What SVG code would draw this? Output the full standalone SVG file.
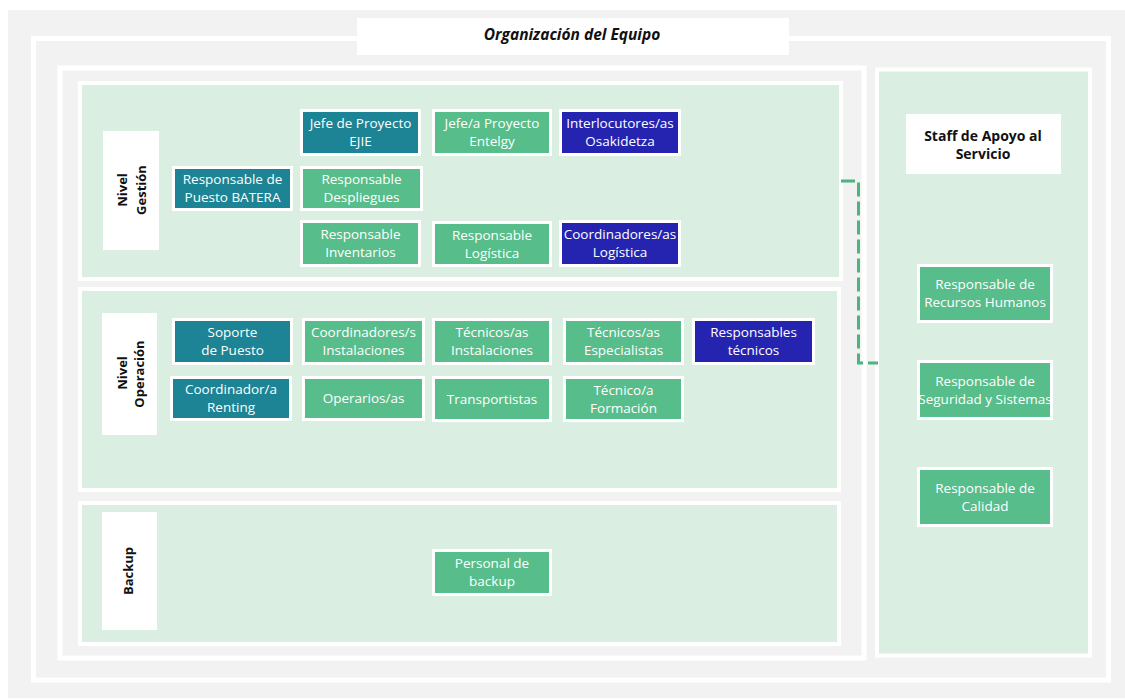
<svg xmlns="http://www.w3.org/2000/svg" width="1125" height="700" viewBox="0 0 1125 700">
<defs>
<style>
.frame{fill:none;stroke:#ffffff;stroke-width:5}
.sec{fill:#daeee1;stroke:#ffffff;stroke-width:4}
.lbl{fill:#ffffff}
.lt{font-family:"Open Sans","Liberation Sans",sans-serif;font-size:13px;font-weight:bold;fill:#111111;text-anchor:middle;dominant-baseline:central}
.st{font-family:"Open Sans","Liberation Sans",sans-serif;font-size:14px;font-weight:bold;fill:#111111;text-anchor:middle;dominant-baseline:central}
.node rect{stroke:#ffffff;stroke-width:3}
.teal{fill:#1c8494}
.green{fill:#57bd8a}
.blue{fill:#2424b0}
.nt{font-family:"Open Sans","Liberation Sans",sans-serif;font-size:13.5px;fill:#ffffff;text-anchor:middle}
.conn{fill:none;stroke:#4db47e;stroke-width:3;stroke-dasharray:14 5}
</style>
<clipPath id="clipS2"><rect x="920" y="363" width="130" height="54"/></clipPath>
</defs>
<rect x="0" y="0" width="1125" height="700" fill="#ffffff"/>
<rect x="8" y="10" width="1117" height="688" fill="#f2f2f2"/>
<rect class="frame" x="33.5" y="38.5" width="1075" height="641.5"/>
<g id="title">
<rect x="357" y="18" width="432" height="37" fill="#ffffff"/>
<text x="572" y="40" style="font-family:'Open Sans','Liberation Sans',sans-serif;font-size:15.5px;font-weight:bold;font-style:italic;fill:#111;text-anchor:middle">Organización del Equipo</text>
</g>
<rect class="frame" x="60" y="68" width="804" height="590" stroke-width="4"/>
<g id="sec-gestion">
<rect class="sec" x="80" y="83" width="761" height="196"/>
<rect class="lbl" x="103" y="131" width="56" height="119"/>
<text class="lt" transform="translate(122,190) rotate(-90)">Nivel</text>
<text class="lt" transform="translate(141,190) rotate(-90)">Gestión</text>
</g>
<g id="sec-operacion">
<rect class="sec" x="80" y="289" width="759" height="201"/>
<rect class="lbl" x="102" y="313" width="55" height="122"/>
<text class="lt" transform="translate(122,373) rotate(-90)">Nivel</text>
<text class="lt" transform="translate(139,374) rotate(-90)">Operación</text>
</g>
<g id="sec-backup">
<rect class="sec" x="80" y="503" width="759" height="141"/>
<rect class="lbl" x="102" y="512" width="55" height="118"/>
<text class="lt" transform="translate(128,571) rotate(-90)">Backup</text>
</g>
<g id="staff">
<rect class="sec" x="877" y="69.5" width="213" height="586"/>
<rect class="lbl" x="906" y="114" width="155" height="60"/>
<text class="st" x="983" y="135">Staff de Apoyo al</text>
<text class="st" x="983" y="153">Servicio</text>
</g>
<g id="n1" class="node"><rect class="teal" x="301.5" y="110.5" width="118" height="44"/><text class="nt" x="360.5" y="128">Jefe de Proyecto</text><text class="nt" x="360.5" y="146">EJIE</text></g>
<g id="n2" class="node"><rect class="green" x="433.5" y="110.5" width="117" height="44"/><text class="nt" x="492" y="128">Jefe/a Proyecto</text><text class="nt" x="492" y="146">Entelgy</text></g>
<g id="n3" class="node"><rect class="blue" x="560.5" y="110.5" width="119" height="44"/><text class="nt" x="620" y="128">Interlocutores/as</text><text class="nt" x="620" y="146">Osakidetza</text></g>
<g id="n4" class="node"><rect class="teal" x="173.5" y="167.5" width="118" height="42"/><text class="nt" x="232.5" y="184">Responsable de</text><text class="nt" x="232.5" y="202">Puesto BATERA</text></g>
<g id="n5" class="node"><rect class="green" x="301.5" y="167.5" width="120" height="42"/><text class="nt" x="361.5" y="184">Responsable</text><text class="nt" x="361.5" y="202">Despliegues</text></g>
<g id="n6" class="node"><rect class="green" x="301.5" y="221.5" width="118" height="44"/><text class="nt" x="360.5" y="239">Responsable</text><text class="nt" x="360.5" y="257">Inventarios</text></g>
<g id="n7" class="node"><rect class="green" x="433.5" y="222.5" width="117" height="43"/><text class="nt" x="492" y="240">Responsable</text><text class="nt" x="492" y="258">Logística</text></g>
<g id="n8" class="node"><rect class="blue" x="560.5" y="221.5" width="119" height="44"/><text class="nt" x="620" y="239">Coordinadores/as</text><text class="nt" x="620" y="257">Logística</text></g>
<g id="o1" class="node"><rect class="teal" x="173.5" y="319.5" width="118" height="44"/><text class="nt" x="232.5" y="337">Soporte</text><text class="nt" x="232.5" y="355">de Puesto</text></g>
<g id="o2" class="node"><rect class="green" x="303.5" y="319.5" width="120" height="44"/><text class="nt" x="363.5" y="337">Coordinadores/s</text><text class="nt" x="363.5" y="355">Instalaciones</text></g>
<g id="o3" class="node"><rect class="green" x="433.5" y="319.5" width="117" height="44"/><text class="nt" x="492" y="337">Técnicos/as</text><text class="nt" x="492" y="355">Instalaciones</text></g>
<g id="o4" class="node"><rect class="green" x="564.5" y="319.5" width="118" height="44"/><text class="nt" x="623.5" y="337">Técnicos/as</text><text class="nt" x="623.5" y="355">Especialistas</text></g>
<g id="o5" class="node"><rect class="blue" x="693.5" y="319.5" width="120" height="44"/><text class="nt" x="753.5" y="337">Responsables</text><text class="nt" x="753.5" y="355">técnicos</text></g>
<g id="o6" class="node"><rect class="teal" x="171.5" y="377.5" width="119" height="42"/><text class="nt" x="231" y="394">Coordinador/a</text><text class="nt" x="231" y="412">Renting</text></g>
<g id="o7" class="node"><rect class="green" x="303.5" y="377.5" width="120" height="42"/><text class="nt" x="363.5" y="403">Operarios/as</text></g>
<g id="o8" class="node"><rect class="green" x="433.5" y="377.5" width="117" height="43"/><text class="nt" x="492" y="404">Transportistas</text></g>
<g id="o9" class="node"><rect class="green" x="564.5" y="377.5" width="118" height="43"/><text class="nt" x="623.5" y="395">Técnico/a</text><text class="nt" x="623.5" y="413">Formación</text></g>
<g id="b1" class="node"><rect class="green" x="433.5" y="550.5" width="117" height="44"/><text class="nt" x="492" y="568">Personal de</text><text class="nt" x="492" y="586">backup</text></g>
<g id="s1" class="node"><rect class="green" x="918.5" y="265.5" width="133" height="56"/><text class="nt" x="985" y="289">Responsable de</text><text class="nt" x="985" y="307">Recursos Humanos</text></g>
<g id="s2" class="node"><rect class="green" x="918.5" y="361.5" width="133" height="57"/><g clip-path="url(#clipS2)"><text class="nt" x="985" y="386">Responsable de</text><text class="nt" x="985" y="404">Seguridad y Sistemas</text></g></g>
<g id="s3" class="node"><rect class="green" x="918.5" y="468.5" width="133" height="57"/><text class="nt" x="985" y="493">Responsable de</text><text class="nt" x="985" y="511">Calidad</text></g>
<g id="connectors">
<path class="conn" d="M841 181 H858.5 V363 H878"/>
</g>
</svg>
